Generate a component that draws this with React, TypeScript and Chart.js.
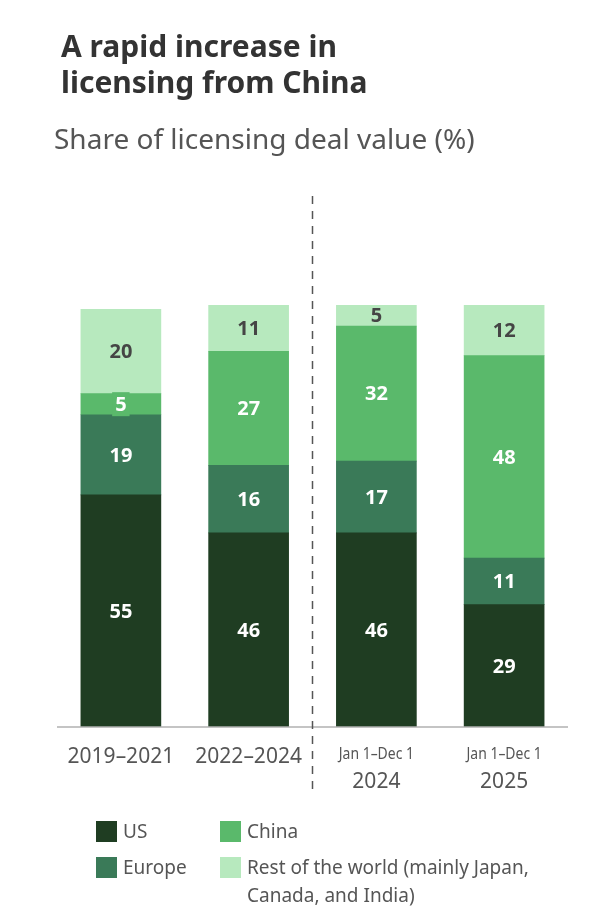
import React, { useEffect, useRef } from "react";
import { Chart, registerables } from "chart.js";

Chart.register(...registerables);

const periodLabels = ["2019–2021", "2022–2024", "2024", "2025"];
const periodNotes = ["", "", "Jan 1–Dec 1", "Jan 1–Dec 1"];
const usValues = [55, 46, 46, 29];
const europeValues = [19, 16, 17, 11];
const chinaValues = [5, 27, 32, 48];
const restValues = [20, 11, 5, 12];
const seriesNames = ["US", "Europe", "China", "Rest of the world (mainly Japan,|Canada, and India)"];
const titleLines = ["A rapid increase in", "licensing from China"];
const subtitleText = "Share of licensing deal value (%)";

const COLORS = ["#1f3d22", "#3a7a58", "#5ab96b", "#b7e9be"];
const LABEL_COLORS = ["#ffffff", "#ffffff", "#ffffff", "#454545"];
const FONT = "'Noto Sans', sans-serif";

const decorPlugin = {
  id: "decor",
  beforeDraw(chart: any) {
    const ctx = chart.ctx;
    ctx.save();
    ctx.fillStyle = "#ffffff";
    ctx.fillRect(0, 0, chart.width, chart.height);
    ctx.fillStyle = "#333333";
    ctx.font = `bold 30px ${FONT}`;
    ctx.textBaseline = "alphabetic";
    ctx.textAlign = "left";
    ctx.fillText(titleLines[0], 61, 57);
    ctx.fillText(titleLines[1], 61, 93);
    ctx.fillStyle = "#555555";
    ctx.font = `28px ${FONT}`;
    ctx.fillText(subtitleText, 54, 149);
    ctx.restore();
  },
  afterDatasetsDraw(chart: any) {
    const ctx = chart.ctx;
    const xs = chart.scales.x;
    const ys = chart.scales.y;
    const area = chart.chartArea;
    const nSets = chart.data.datasets.length;
    ctx.save();
    chart.data.datasets.forEach((ds: any, di: number) => {
      const meta = chart.getDatasetMeta(di);
      meta.data.forEach((el: any, i: number) => {
        const v = ds.data[i];
        const cy = (el.y + el.base) / 2;
        ctx.font = `bold 20px ${FONT}`;
        const tw = ctx.measureText(String(v)).width;
        if (Math.abs(el.base - el.y) < 24 && di < nSets - 1) {
          ctx.fillStyle = COLORS[di];
          ctx.fillRect(el.x - tw / 2 - 3, cy - 12, tw + 6, 24);
        }
        ctx.fillStyle = LABEL_COLORS[di];
        ctx.textAlign = "center";
        ctx.textBaseline = "middle";
        ctx.fillText(String(v), el.x, cy + 1);
      });
    });
    const y0 = ys.getPixelForValue(0);
    ctx.strokeStyle = "#b0b0b0";
    ctx.lineWidth = 1.5;
    ctx.beginPath();
    ctx.moveTo(area.left, y0);
    ctx.lineTo(area.right, y0);
    ctx.stroke();
    const xm = (xs.getPixelForValue(1) + xs.getPixelForValue(2)) / 2;
    ctx.strokeStyle = "#555555";
    ctx.lineWidth = 1.5;
    ctx.setLineDash([8, 7]);
    ctx.beginPath();
    ctx.moveTo(xm, 196);
    ctx.lineTo(xm, 790);
    ctx.stroke();
    ctx.setLineDash([]);
    periodLabels.forEach((lab, i) => {
      const x = xs.getPixelForValue(i);
      ctx.fillStyle = "#555555";
      ctx.textAlign = "center";
      ctx.textBaseline = "alphabetic";
      if (periodNotes[i]) {
        ctx.save();
        ctx.translate(x, 759);
        ctx.scale(0.82, 1);
        ctx.font = `17px ${FONT}`;
        ctx.fillText(periodNotes[i], 0, 0);
        ctx.restore();
        ctx.font = `21px ${FONT}`;
        ctx.fillText(lab, x, 788);
      } else {
        ctx.font = `21px ${FONT}`;
        ctx.fillText(lab, x, 763);
      }
    });
    const pos = [
      [96, 821],
      [96, 857],
      [220, 821],
      [220, 857],
    ];
    seriesNames.forEach((name, i) => {
      const [lx, ly] = pos[i];
      ctx.fillStyle = COLORS[i];
      ctx.fillRect(lx, ly, 21, 21);
      ctx.fillStyle = "#555555";
      ctx.font = `19px ${FONT}`;
      ctx.textAlign = "left";
      ctx.textBaseline = "alphabetic";
      name.split("|").forEach((ln, k) => {
        ctx.fillText(ln, lx + 27, ly + 17 + k * 28);
      });
    });
    ctx.restore();
  },
};

export default function App() {
  const ref = useRef<HTMLCanvasElement | null>(null);
  useEffect(() => {
    const data = [usValues, europeValues, chinaValues, restValues];
    const chart = new Chart(ref.current as HTMLCanvasElement, {
      type: "bar",
      data: {
        labels: periodLabels,
        datasets: data.map((d, i) => ({
          label: seriesNames[i].replace("|", " "),
          data: d,
          backgroundColor: COLORS[i],
          borderWidth: 0,
          barThickness: 80,
        })),
      },
      options: {
        responsive: false,
        animation: false,
        layout: { padding: { left: 57, right: 32, top: 305, bottom: 193 } },
        plugins: { legend: { display: false }, title: { display: false }, tooltip: { enabled: false } },
        scales: {
          x: { stacked: true, display: false },
          y: { stacked: true, display: false, min: 0, max: 100 },
        },
      },
      plugins: [decorPlugin],
    });
    return () => chart.destroy();
  }, []);
  return (
    <div style={{ position: "fixed", left: 0, top: 0, width: 600, height: 920, background: "#fff" }}>
      <canvas ref={ref} width={600} height={920} style={{ width: 600, height: 920, display: "block" }} />
    </div>
  );
}
